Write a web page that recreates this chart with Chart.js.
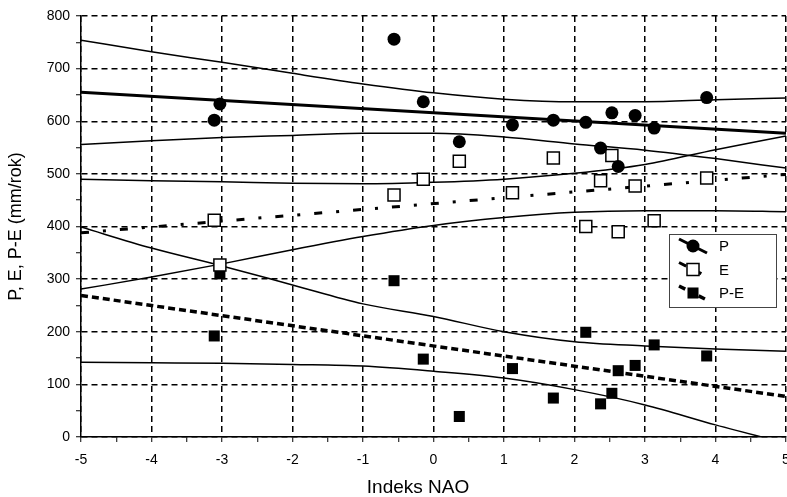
<html>
<head>
    <title>P, E, P-E a indeks NAO</title>
    <script src="https://cdn.jsdelivr.net/npm/chart.js"></script>
    <style>
        body { margin: 0; background: #fff; }
        #wrap { width: 787px; height: 497px; }
    </style>
</head>
<body>
<div id="wrap"><canvas id="chart"></canvas></div>

<script>
    // punkty pomiarowe: indeks NAO i wartości (mm/rok)
    const nao = [-3.11, -3.03, -0.56, -0.145, 0.366, 1.12, 1.70, 2.16, 2.37, 2.53, 2.62, 2.86, 3.13, 3.875];
    const pVals = [602, 633, 756, 637, 561, 593, 602, 598, 549, 616, 514, 611, 587, 645];
    const eVals = [412, 327, 460, 490, 524, 464, 530, 400, 487, 535, 390, 477, 411, 492];
    const peVals = [192, 310, 297, 148, 39, 130, 74, 199, 63, 83, 126, 136, 175, 154];

    // linie trendu (końce osi)
    const trendX = [-5, 5];
    const pTrend = [655, 577];
    const eTrend = [388, 499];
    const peTrend = [269, 77];

    // przedziały ufności odczytane co 1 jednostkę NAO
    const bandX = [-5, -4, -3, -2, -1, 0, 1, 2, 3, 4, 5];
    const pUpper = [754, 732, 712, 691, 671, 654, 642, 637, 637, 641, 644];
    const pLower = [556, 563, 569, 573, 577, 577, 570, 557, 545, 529, 511];
    const eUpper = [490, 487, 485, 482, 481, 484, 490, 501, 518, 546, 572];
    const eLower = [281, 304, 329, 356, 381, 402, 417, 427, 430, 430, 428];
    const peUpper = [399, 359, 325, 289, 253, 229, 200, 181, 173, 167, 163];
    const peLower = [142, 141, 140, 138, 135, 125, 112, 90, 61, 23, -12];

    const legendNames = ['P', 'E', 'P-E'];
    const xTitle = 'Indeks NAO';

    const fontFamily = '"Liberation Sans", Arial, sans-serif';

    const pts = (xs, ys) => xs.map((x, i) => ({x: x, y: ys[i]}));

    const band = (ys) => ({
        type: 'line',
        data: pts(bandX, ys),
        borderColor: '#000',
        borderWidth: 1.5,
        pointRadius: 0,
        cubicInterpolationMode: 'monotone',
        order: 3
    });

    const datasets = [
        {label: 'P', data: pts(nao, pVals), pointStyle: 'circle', pointRadius: 6.5,
            backgroundColor: '#000', borderColor: '#000', borderWidth: 0, order: 1},
        {label: 'E', data: pts(nao, eVals), pointStyle: 'rect', pointRadius: 8.5,
            backgroundColor: '#fff', borderColor: '#000', borderWidth: 1.5, order: 1},
        {label: 'P-E', data: pts(nao, peVals), pointStyle: 'rect', pointRadius: 7.8,
            backgroundColor: '#000', borderColor: '#000', borderWidth: 0, order: 1},
        {type: 'line', data: pts(trendX, pTrend), borderColor: '#000', borderWidth: 3,
            pointRadius: 0, order: 2},
        {type: 'line', data: pts(trendX, eTrend), borderColor: '#000', borderWidth: 3,
            borderDash: [8, 14, 3, 14], pointRadius: 0, order: 2},
        {type: 'line', data: pts(trendX, peTrend), borderColor: '#000', borderWidth: 3.5,
            borderDash: [7, 4], pointRadius: 0, order: 2},
        band(pUpper), band(pLower),
        band(eUpper), band(eLower),
        band(peUpper), band(peLower)
    ];

    // legenda w ramce i podpis osi X, rysowane ręcznie
    const boxLegend = {
        id: 'boxLegend',
        afterDraw(chart) {
            const c = chart.ctx;
            c.save();
            c.fillStyle = '#000';
            c.font = '19px ' + fontFamily;
            c.textAlign = 'center';
            c.textBaseline = 'middle';
            c.fillText(xTitle, 418, 488);
            c.textAlign = 'left';

            c.fillStyle = '#fff';
            c.strokeStyle = '#444';
            c.lineWidth = 1;
            c.fillRect(669.5, 234.5, 107, 73);
            c.strokeRect(669.5, 234.5, 107, 73);
            legendNames.forEach((name, i) => {
                const y = 246 + i * 23.5;
                const mark = chart.data.datasets[i];
                const line = chart.data.datasets[3 + i];
                c.save();
                c.strokeStyle = '#000';
                c.lineWidth = line.borderWidth;
                c.setLineDash(line.borderDash || []);
                c.beginPath();
                c.moveTo(679, y - 7);
                c.lineTo(707, y + 7);
                c.stroke();
                c.restore();
                c.fillStyle = mark.backgroundColor;
                c.strokeStyle = '#000';
                c.lineWidth = mark.borderWidth;
                c.setLineDash([]);
                Chart.helpers.drawPoint(c, {
                    pointStyle: mark.pointStyle,
                    radius: mark.pointRadius,
                    borderWidth: mark.borderWidth,
                    rotation: 0
                }, 693, y);
                c.fillStyle = '#000';
                c.font = '15px ' + fontFamily;
                c.textBaseline = 'middle';
                c.fillText(name, 719, y + 1);
            });
            c.restore();
        }
    };

    const tickFont = {family: fontFamily, size: 14};
    const titleFont = {family: fontFamily, size: 18, lineHeight: 1};

    new Chart(document.getElementById('chart'), {
        type: 'scatter',
        data: {datasets: datasets},
        options: {
            responsive: true,
            maintainAspectRatio: false,
            animation: false,
            layout: {autoPadding: false, padding: {top: 16, right: 1, bottom: 0, left: 0}},
            plugins: {legend: {display: false}, tooltip: {enabled: false}},
            scales: {
                x: {
                    type: 'linear',
                    min: -5,
                    max: 5,
                    ticks: {
                        stepSize: 0.5,
                        autoSkip: false,
                        maxRotation: 0,
                        color: '#000',
                        font: tickFont,
                        padding: 10,
                        callback: (v) => Number.isInteger(v) ? v : ''
                    },
                    grid: {
                        color: (ctx) => ctx.tick && Number.isInteger(ctx.tick.value) ? '#000' : 'rgba(0,0,0,0)',
                        lineWidth: 1.5,
                        tickColor: '#000',
                        tickLength: 5,
                        tickWidth: 1
                    },
                    border: {display: true, color: '#000', width: 1.5, dash: [6, 4]},
                    afterFit(scale) {
                        scale.paddingLeft = 0;
                        scale.paddingRight = 0;
                        scale.height = 60;
                    }
                },
                y: {
                    min: 0,
                    max: 800,
                    ticks: {
                        stepSize: 50,
                        autoSkip: false,
                        color: '#000',
                        font: tickFont,
                        padding: 6,
                        callback: (v) => v % 100 === 0 ? v : ''
                    },
                    grid: {
                        color: (ctx) => ctx.tick && ctx.tick.value % 100 === 0 ? '#000' : 'rgba(0,0,0,0)',
                        lineWidth: 1.5,
                        tickColor: '#000',
                        tickLength: 5,
                        tickWidth: 1
                    },
                    border: {display: true, color: '#000', width: 1.5, dash: [6, 4]},
                    title: {display: true, text: 'P, E, P-E (mm/rok)', color: '#000', font: titleFont,
                        padding: {top: 7, bottom: 0}},
                    afterFit(scale) {
                        scale.width = 81;
                        scale.paddingTop = 0;
                        scale.paddingBottom = 0;
                    }
                }
            }
        },
        plugins: [boxLegend]
    });
</script>
</body>
</html>
